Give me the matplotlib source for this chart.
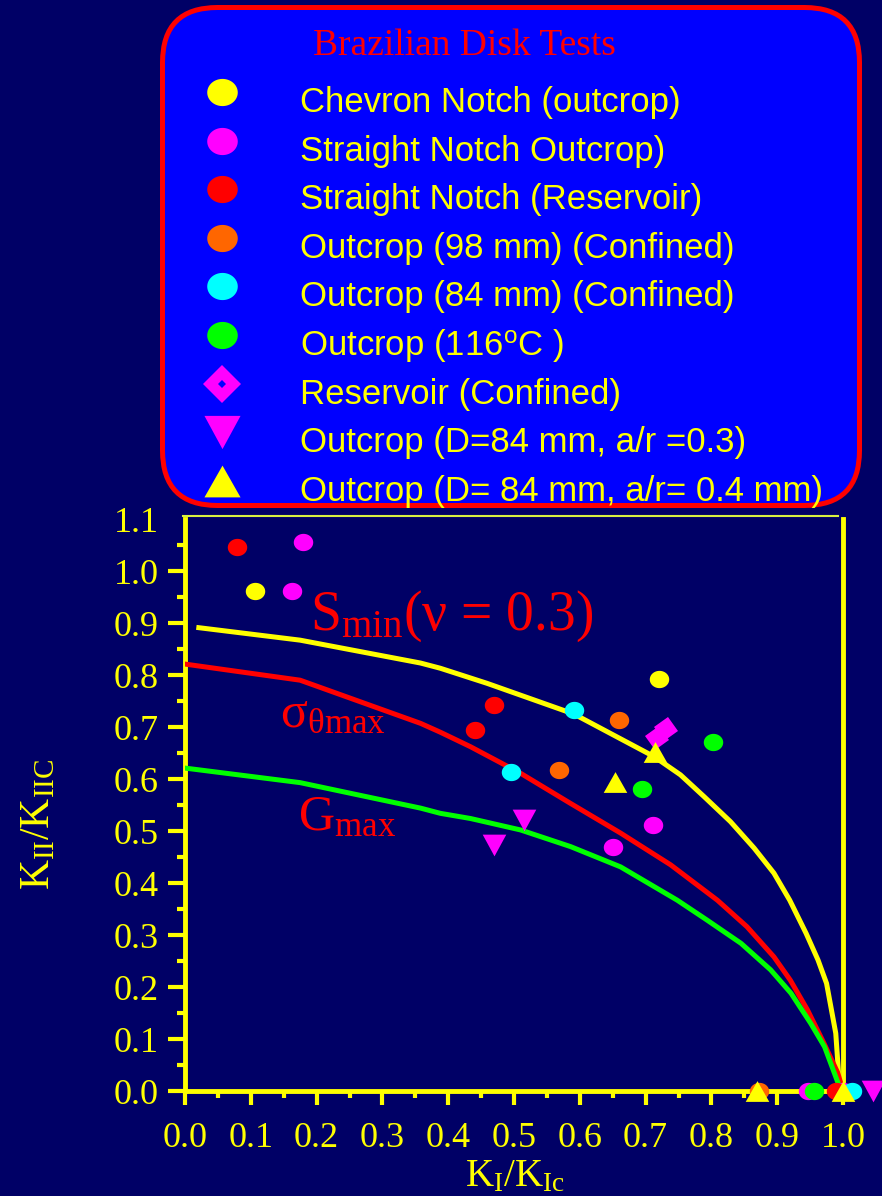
import numpy as np
import matplotlib
matplotlib.use("Agg")
import matplotlib.pyplot as plt
from matplotlib.path import Path
from matplotlib.markers import MarkerStyle
from matplotlib.patches import FancyBboxPatch
from matplotlib.transforms import Affine2D

plt.rcParams["mathtext.fontset"] = "custom"
plt.rcParams["mathtext.rm"] = "Liberation Serif"
plt.rcParams["mathtext.it"] = "Liberation Serif:italic"
plt.rcParams["mathtext.sf"] = "Liberation Sans"

NAVY = "#000066"
YEL = "#ffff00"

# ---- test series (K_I/K_Ic, K_II/K_IIC) ----
chevron_x = [0.107, 0.720]
chevron_y = [0.962, 0.793]
sn_out_x = [0.180, 0.163, 0.711, 0.651, 0.947, 1.000]
sn_out_y = [1.056, 0.962, 0.512, 0.469, 0.0, 0.0]
sn_res_x = [0.079, 0.470, 0.441, 0.990]
sn_res_y = [1.047, 0.743, 0.694, 0.0]
out98_x = [0.659, 0.569, 0.873]
out98_y = [0.714, 0.617, 0.0]
out84_x = [0.591, 0.495, 1.013]
out84_y = [0.733, 0.613, 0.0]
out116_x = [0.802, 0.695, 0.956]
out116_y = [0.671, 0.581, 0.0]
res_conf_x = [0.731, 0.718]
res_conf_y = [0.696, 0.678]
ar03_x = [0.515, 0.469, 1.046]
ar03_y = [0.521, 0.474, 0.0]
ar04_x = [0.714, 0.653, 0.869, 1.000]
ar04_y = [0.651, 0.595, 0.0, 0.0]

# ---- criteria curves ----
smin_x = [0.021, 0.175, 0.358, 0.388, 0.459, 0.591, 0.713, 0.753, 0.789, 0.829,
          0.865, 0.895, 0.919, 0.944, 0.962, 0.975, 0.989, 0.994, 1.0]
smin_y = [0.891, 0.867, 0.823, 0.813, 0.784, 0.725, 0.643, 0.608, 0.566, 0.518,
          0.467, 0.419, 0.367, 0.303, 0.252, 0.207, 0.111, 0.020, 0.0]
sig_x = [0.0, 0.175, 0.358, 0.388, 0.434, 0.510, 0.586, 0.662, 0.738, 0.809,
         0.854, 0.895, 0.920, 0.946, 0.971, 0.992, 1.0]
sig_y = [0.821, 0.790, 0.707, 0.690, 0.662, 0.611, 0.553, 0.496, 0.435, 0.367,
         0.316, 0.258, 0.213, 0.156, 0.092, 0.035, 0.0]
gmax_x = [0.0, 0.175, 0.358, 0.388, 0.434, 0.510, 0.586, 0.662, 0.748, 0.793,
          0.845, 0.890, 0.921, 0.951, 0.972, 0.997]
gmax_y = [0.621, 0.593, 0.544, 0.534, 0.524, 0.502, 0.470, 0.431, 0.367, 0.329,
          0.284, 0.233, 0.188, 0.130, 0.085, 0.0]

labels = ["Chevron Notch (outcrop)", "Straight Notch Outcrop)",
          "Straight Notch (Reservoir)", "Outcrop (98 mm) (Confined)",
          "Outcrop (84 mm) (Confined)", r"Outcrop (116$^{\mathsf{o}}$C )",
          "Reservoir (Confined)", "Outcrop (D=84 mm, a/r =0.3)",
          "Outcrop (D= 84 mm, a/r= 0.4 mm)"]


def ellipse(aspect):
    t = np.linspace(0, 2 * np.pi, 60)
    return Path(np.column_stack([np.cos(t), aspect * np.sin(t)]), closed=True)


def tri(up, aspect):
    s = 1 if up else -1
    return Path([(0, s * aspect), (-1, -s * aspect), (1, -s * aspect), (0, s * aspect)], closed=True)


ELL = ellipse(0.89)
UP = tri(True, 0.88)
DOWN = tri(False, 0.92)
TILTED = MarkerStyle("s", transform=Affine2D().rotate_deg(35))

series = [
    (chevron_x, chevron_y, YEL, ELL, 14),
    (sn_out_x, sn_out_y, "#ff00ff", ELL, 14),
    (sn_res_x, sn_res_y, "#ff0000", ELL, 14),
    (out98_x, out98_y, "#ff6600", ELL, 14),
    (out84_x, out84_y, "#00ffff", ELL, 14),
    (out116_x, out116_y, "#00ff00", ELL, 14),
    (res_conf_x, res_conf_y, "#ff00ff", TILTED, 12),
    (ar03_x, ar03_y, "#ff00ff", DOWN, 17),
    (ar04_x, ar04_y, YEL, UP, 17),
]

fig = plt.figure(figsize=(8.82, 11.96), dpi=100, facecolor=NAVY)
ax = fig.add_axes([185 / 882, 1 - 1091 / 1196, (843 - 185) / 882, (1091 - 519) / 1196])
ax.set_facecolor(NAVY)
ax.set_xlim(0, 1.0)
ax.set_ylim(0, 1.1)

ax.plot(smin_x, smin_y, color=YEL, lw=3.6, zorder=3, solid_joinstyle="round")
ax.plot(sig_x, sig_y, color="#ff0000", lw=3.6, zorder=3, solid_joinstyle="round")
ax.plot(gmax_x, gmax_y, color="#00ff00", lw=3.6, zorder=3, solid_joinstyle="round")

for xs, ys, c, m, ms in series:
    ax.plot(xs, ys, ls="none", marker=m, ms=ms, mfc=c, mec=c, mew=0,
            zorder=5, clip_on=False)

# criteria names
ax.text(0.190, 0.887, r"$\mathrm{S_{min}}$(ν = 0.3)", color="#ff0000",
        fontsize=40, family="Liberation Serif", va="baseline", ha="left")
ax.text(0.144, 0.700, r"$\mathrm{σ_{θmax}}$", color="#ff0000",
        fontsize=36, va="baseline", ha="left")
ax.text(0.172, 0.502, r"$\mathrm{G_{max}}$", color="#ff0000",
        fontsize=36, va="baseline", ha="left")

for s in ["left", "bottom", "right"]:
    ax.spines[s].set_color(YEL)
    ax.spines[s].set_linewidth(3.5)
ax.spines["top"].set_visible(False)

ax.set_xticks(np.arange(0, 1.01, 0.1))
ax.set_xticks(np.arange(0.05, 1.0, 0.1), minor=True)
ax.set_yticks(np.arange(0, 1.11, 0.1))
ax.set_yticks(np.arange(0.05, 1.1, 0.1), minor=True)
ax.set_xticklabels([f"{v:.1f}" for v in np.arange(0, 1.01, 0.1)])
ax.set_yticklabels([f"{v:.1f}" for v in np.arange(0, 1.11, 0.1)])
ax.tick_params(axis="y", which="major", length=12, width=3, pad=7)
ax.tick_params(axis="y", which="minor", length=6, width=3)
ax.tick_params(axis="x", which="major", length=10, width=3, pad=12)
ax.tick_params(axis="x", which="minor", length=5, width=3)
ax.tick_params(which="both", direction="out", color=YEL, labelcolor=YEL,
               labelsize=26, right=False, top=False)
for lab in ax.get_xticklabels() + ax.get_yticklabels():
    lab.set_fontfamily("Liberation Serif")
ax.yaxis.get_major_ticks()[-1].tick1line.set_visible(False)

# overlay in pixel units for legend box, frame line and axis titles
ov = fig.add_axes([0, 0, 1, 1])
ov.set_xlim(0, 882)
ov.set_ylim(1196, 0)
ov.axis("off")

ov.plot([183, 838], [516, 516], color="#d8f040", lw=1.5)

box = FancyBboxPatch((162.5, 7.5), 697, 498, boxstyle="round,pad=0,rounding_size=55",
                     fc="#0000ff", ec="#ff0000", lw=3.6)
ov.add_patch(box)
ov.text(464, 55, "Brazilian Disk Tests", color="#ff0000", fontsize=27,
        family="Liberation Serif", ha="center", va="baseline")

leg_sizes = [22, 22, 22, 22, 22, 22, 19, 26, 26]
for i, ((xs, ys, c, m, ms), lab) in enumerate(zip(series, labels)):
    y = 92 + i * 48.6
    ov.plot([222], [y], ls="none", marker=m if m is not TILTED else "D",
            ms=leg_sizes[i], mfc=c, mec=c, mew=0)
    if m is TILTED:
        ov.plot([222], [y], ls="none", marker="D", ms=4.5, mfc="#0000ff", mew=0)
    ov.text(300, y + 20, lab, color=YEL, fontsize=25, family="Liberation Sans",
            ha="left", va="baseline")

fig.text(515 / 882, 1 - 1186 / 1196, r"$\mathrm{K_I/K_{Ic}}$", color=YEL,
         fontsize=28, ha="center", va="baseline")
fig.text(37 / 882, 1 - 825 / 1196, r"$\mathrm{K_{II}/K_{IIC}}$", color=YEL,
         fontsize=30, ha="center", va="center", rotation=90)

fig.savefig("out.png", dpi=100, facecolor=NAVY)
